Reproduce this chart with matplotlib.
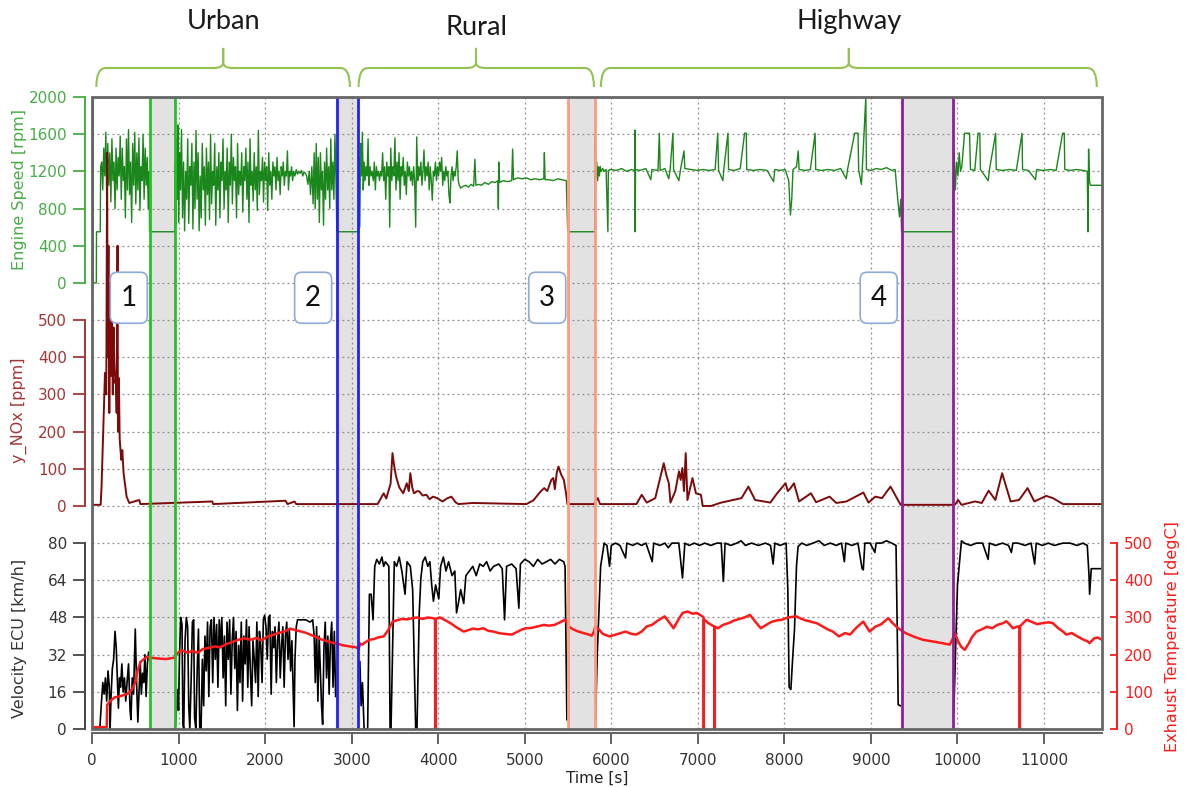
import matplotlib
matplotlib.use("Agg")
import matplotlib.pyplot as plt
import matplotlib.transforms as mtransforms
import numpy as np
from matplotlib.patches import FancyBboxPatch, PathPatch, Rectangle
from matplotlib.path import Path

nan = float("nan")
plt.rcParams["font.family"] = ["DejaVu Sans"]

# ---- data ------------------------------------------------------------------
phases = ["Urban", "Rural", "Highway"]
phase_spans = [(50, 2980), (3080, 5800), (5880, 11610)]
phase_centers = [1516, 4437, 8745]

stop_windows = [(665, 955), (2829, 3079), (5500, 5808), (9354, 9950)]
stop_colors = ["#22c322", "#1f1fff", "#ff9a80", "#8e1f96"]

box_labels = ["1", "2", "3", "4"]
box_times = [425, 2555, 5260, 9090]

x_ticks = list(range(0, 11001, 1000))
rpm_ticks = [0, 400, 800, 1200, 1600, 2000]
nox_ticks = [0, 100, 200, 300, 400, 500]
vel_ticks = [0, 16, 32, 48, 64, 80]
temp_ticks = [0, 100, 200, 300, 400, 500]

# engine speed [rpm]
engine_speed = [
    (0, 0), (10, 0), (12, 2000), (14, 0), (50, 0), (52, 550), (95, 550),
    (100, 1250), (112, 1300), (124, 1000), (136, 1450), (148, 1150), (160, 1620),
    (170, 880), (182, 1500), (194, 1050), (206, 1400), (218, 870), (230, 1550),
    (242, 1100), (254, 1300), (266, 800), (278, 1450), (290, 1000), (302, 1350),
    (314, 1150), (326, 1580), (338, 900), (350, 1450), (362, 1100), (374, 1250),
    (386, 700), (398, 1550), (410, 1000), (422, 1650), (434, 950), (446, 1300),
    (458, 650), (470, 1500), (482, 1050), (494, 1620), (506, 850), (518, 1400),
    (530, 1000), (542, 1560), (554, 780), (566, 1250), (578, 1100), (590, 1600),
    (602, 900), (614, 1450), (626, 1050), (638, 1350), (650, 800), (662, 1200),
    (665, 550), (955, 550),
    (960, 1300), (968, 620), (976, 1550), (984, 900), (992, 1700), (1002, 650),
    (1012, 1400), (1022, 1000), (1034, 1650), (1046, 700), (1058, 1300), (1070, 560),
    (1082, 1200), (1094, 900), (1106, 1550), (1118, 640), (1130, 1250), (1142, 1050),
    (1154, 1500), (1166, 580), (1178, 1300), (1190, 800), (1202, 1640), (1214, 900),
    (1226, 1400), (1238, 560), (1250, 1150), (1262, 700), (1274, 1500), (1286, 1000),
    (1298, 1250), (1310, 620), (1322, 1450), (1334, 950), (1346, 1300), (1358, 680),
    (1370, 1600), (1382, 850), (1394, 1200), (1406, 1050), (1418, 1500), (1430, 620),
    (1442, 1250), (1454, 1000), (1466, 1400), (1478, 700), (1490, 1300), (1502, 1100),
    (1514, 1550), (1526, 800), (1538, 1200), (1550, 1000), (1562, 1450), (1574, 650),
    (1586, 1300), (1598, 1050), (1610, 1600), (1622, 850), (1634, 1350), (1646, 1100),
    (1658, 1250), (1670, 700), (1682, 1500), (1694, 950), (1706, 1200), (1718, 1050),
    (1730, 1400), (1742, 760), (1754, 1250), (1766, 1100), (1778, 1450), (1790, 900),
    (1802, 1300), (1814, 650), (1826, 1550), (1838, 1050), (1850, 1200), (1862, 880),
    (1874, 1400), (1886, 1000), (1898, 1250), (1910, 780), (1922, 1640), (1934, 950),
    (1946, 1200), (1958, 1100), (1970, 1350), (1982, 870), (1994, 1300), (2006, 1100),
    (2018, 1250), (2030, 780), (2042, 1400), (2054, 1050), (2066, 1200), (2078, 900),
    (2090, 1300), (2102, 1150), (2114, 1250), (2126, 1000), (2138, 1350), (2150, 1100),
    (2162, 1200), (2174, 950), (2186, 1250), (2198, 1150), (2210, 1300), (2222, 1050),
    (2234, 1200), (2246, 1150), (2258, 1420), (2270, 1000), (2282, 1200), (2294, 1150),
    (2306, 1250), (2318, 1100), (2330, 1200), (2345, 1150), (2360, 1220), (2375, 1170),
    (2390, 1200), (2405, 1180), (2420, 1210), (2435, 1150), (2450, 1190), (2465, 1180),
    (2480, 1150), (2495, 1060), (2510, 1200), (2525, 950), (2540, 1250), (2555, 850),
    (2567, 1400), (2579, 800), (2591, 1500), (2603, 900), (2615, 1350), (2627, 650),
    (2639, 1400), (2651, 1000), (2663, 1200), (2675, 620), (2687, 1300), (2699, 900),
    (2711, 1450), (2723, 1000), (2735, 1250), (2747, 800), (2759, 1550), (2771, 1000),
    (2783, 1300), (2795, 900), (2807, 1600), (2819, 1100), (2829, 550), (3079, 550),
    (3084, 1350), (3094, 600), (3104, 1500), (3114, 1150), (3124, 1620), (3134, 1000),
    (3144, 1300), (3154, 1100), (3166, 1250), (3178, 1150), (3190, 1550), (3200, 1050),
    (3212, 1250), (3224, 1150), (3236, 1200), (3250, 1100), (3262, 1300), (3274, 1000),
    (3286, 1250), (3298, 1150), (3310, 1200), (3322, 1100), (3334, 1200), (3346, 1150),
    (3358, 1400), (3370, 1100), (3382, 1250), (3394, 900), (3406, 1300), (3418, 1150),
    (3430, 1250), (3440, 600), (3452, 1450), (3464, 1100), (3476, 1250), (3488, 1150),
    (3500, 1560), (3512, 1000), (3524, 1300), (3536, 1100), (3548, 1400), (3560, 900),
    (3572, 1250), (3584, 1150), (3596, 1350), (3608, 1050), (3620, 1200), (3632, 950),
    (3644, 1300), (3656, 1150), (3668, 1250), (3680, 1100), (3692, 1200), (3704, 1050),
    (3716, 1250), (3728, 1100), (3740, 600), (3752, 1570), (3764, 1100), (3776, 1250),
    (3788, 1150), (3800, 1300), (3812, 1050), (3824, 1200), (3836, 1430), (3848, 1100),
    (3860, 1250), (3872, 1150), (3884, 1300), (3896, 1000), (3908, 1250), (3920, 1100),
    (3932, 890), (3944, 1200), (3956, 1150), (3968, 1300), (3980, 1100), (3992, 1250),
    (4004, 1150), (4016, 1300), (4028, 1200), (4040, 1350), (4052, 1050), (4064, 1200),
    (4076, 1100), (4088, 1250), (4100, 1150), (4112, 1200), (4124, 950), (4136, 860),
    (4148, 1150), (4160, 1250), (4172, 1100), (4184, 1200), (4196, 1150), (4208, 1250),
    (4220, 1420), (4232, 1100), (4244, 1050), (4260, 1020), (4290, 1040), (4320, 1050),
    (4350, 1030), (4380, 1060), (4410, 1040), (4424, 1330), (4436, 1050), (4470, 1060),
    (4500, 1050), (4540, 1080), (4580, 1060), (4620, 1090), (4660, 1080), (4690, 1100),
    (4695, 800), (4700, 1300), (4710, 1080), (4750, 1100), (4800, 1090), (4850, 1100),
    (4860, 1440), (4870, 1110), (4920, 1130), (4970, 1120), (5020, 1130), (5070, 1110),
    (5120, 1120), (5170, 1110), (5220, 1120), (5227, 1400), (5235, 1110), (5280, 1110),
    (5330, 1100), (5380, 1120), (5430, 1110), (5480, 1100), (5495, 600), (5500, 550),
    (5808, 550), (5812, 1570), (5822, 1150), (5832, 1300), (5842, 1100), (5852, 1250),
    (5862, 1150), (5872, 1250), (5882, 1200), (5900, 1230), (5920, 1200), (5940, 1220),
    (5961, 550), (5966, 1210), (5990, 1220), (6060, 1210), (6120, 1230), (6180, 1200),
    (6230, 1220), (6270, 1210), (6273, 1645), (6276, 550), (6280, 1220), (6330, 1210),
    (6400, 1230), (6457, 1110), (6470, 1220), (6540, 1210), (6555, 1610), (6565, 1210),
    (6620, 1230), (6664, 1120), (6680, 1220), (6712, 1610), (6720, 1220), (6781, 1100),
    (6800, 1220), (6840, 1420), (6850, 1230), (6920, 1220), (6990, 1210), (7060, 1220),
    (7130, 1210), (7200, 1220), (7230, 1610), (7240, 1210), (7289, 1100), (7300, 1220),
    (7348, 1610), (7355, 1220), (7420, 1210), (7490, 1230), (7540, 1610), (7560, 1610),
    (7565, 1220), (7640, 1210), (7720, 1220), (7800, 1210), (7875, 1090), (7890, 1220),
    (7950, 1210), (8010, 1220), (8050, 1100), (8070, 730), (8085, 900), (8100, 1220),
    (8140, 1250), (8160, 1420), (8170, 1220), (8240, 1210), (8300, 1220), (8355, 1610),
    (8362, 1220), (8430, 1210), (8500, 1220), (8580, 1210), (8650, 1230), (8715, 1120),
    (8730, 1220), (8812, 1610), (8851, 1610), (8858, 1220), (8890, 1060), (8900, 1220),
    (8941, 2000), (8948, 1220), (9000, 1210), (9060, 1230), (9120, 1220), (9180, 1240),
    (9240, 1210), (9280, 1220), (9300, 1000), (9315, 850), (9330, 710), (9345, 900),
    (9354, 550), (9950, 550), (9962, 1400), (9975, 1000), (9990, 1300), (10005, 1150),
    (10020, 1400), (10035, 1200), (10050, 1250), (10082, 1610), (10140, 1610),
    (10150, 1220), (10200, 1210), (10238, 1610), (10258, 1610), (10265, 1220),
    (10355, 1100), (10370, 1220), (10441, 1610), (10448, 1220), (10520, 1210),
    (10600, 1220), (10680, 1210), (10746, 1610), (10752, 1220), (10820, 1210),
    (10902, 1110), (10915, 1220), (10990, 1210), (11070, 1220), (11140, 1210),
    (11215, 1610), (11234, 1610), (11240, 1220), (11300, 1210), (11380, 1220),
    (11450, 1210), (11500, 1200), (11508, 550), (11515, 1440), (11525, 1100),
    (11535, 1050), (11670, 1050),
]

# NOx concentration [ppm]
nox = [
    (0, 3), (100, 3), (110, 50), (130, 200), (150, 358), (165, 300), (175, 950),
    (180, 400), (190, 700), (200, 250), (210, 600), (220, 350), (230, 520), (240, 300),
    (250, 480), (260, 380), (270, 330), (276, 340), (285, 250), (295, 700), (300, 200),
    (310, 344), (320, 180), (338, 124), (350, 150), (365, 88), (380, 60), (400, 25),
    (430, 8), (545, 16), (560, 5), (1390, 12), (1400, 5), (2235, 14), (2260, 5),
    (2340, 12), (2360, 5), (3300, 5), (3370, 34), (3400, 20), (3450, 60), (3472, 142),
    (3490, 110), (3513, 79), (3550, 50), (3596, 34), (3637, 61), (3660, 40), (3678, 88),
    (3700, 50), (3720, 34), (3760, 40), (3782, 39), (3820, 28), (3864, 30), (3900, 18),
    (3940, 25), (3988, 21), (4050, 12), (4100, 20), (4153, 25), (4200, 10), (4235, 5),
    (4400, 8), (5019, 5), (5100, 15), (5184, 39), (5225, 48), (5260, 40), (5307, 70),
    (5330, 75), (5348, 45), (5370, 90), (5390, 106), (5420, 85), (5452, 70), (5480, 30),
    (5493, 5), (5800, 5), (5844, 21), (5870, 5), (6290, 5), (6352, 30), (6410, 9),
    (6508, 21), (6606, 115), (6640, 80), (6665, 61), (6684, 9), (6740, 40), (6782, 93),
    (6802, 70), (6821, 102), (6840, 40), (6860, 142), (6880, 16), (6938, 75), (6978, 34),
    (7036, 30), (7056, 0), (7153, 0), (7270, 9), (7505, 21), (7584, 52), (7662, 16),
    (7838, 9), (7916, 34), (8014, 61), (8040, 40), (8072, 48), (8111, 61), (8170, 12),
    (8307, 34), (8366, 10), (8522, 25), (8600, 8), (8717, 12), (8913, 36), (8972, 9),
    (9050, 25), (9128, 21), (9226, 52), (9343, 3), (9969, 3), (10008, 16), (10047, 3),
    (10203, 12), (10281, 8), (10360, 41), (10438, 16), (10516, 88), (10614, 12),
    (10712, 16), (10810, 48), (10888, 12), (11025, 27), (11103, 21), (11220, 5),
    (11670, 5),
]

# vehicle speed [km/h], no signal while the engine idles in the grey windows
velocity = [
    (0, 0), (90, 0), (110, 12), (125, 20), (140, 15), (155, 22), (170, 12), (185, 25),
    (200, 18), (209, 0), (220, 14), (235, 26), (250, 30), (266, 42), (280, 35), (295, 20),
    (305, 9), (318, 22), (330, 18), (345, 28), (360, 16), (375, 22), (390, 12), (405, 20),
    (422, 28), (440, 8), (450, 4), (465, 22), (480, 15), (500, 43), (515, 20), (530, 3),
    (545, 18), (557, 29), (570, 15), (585, 24), (597, 20), (612, 32), (625, 14), (640, 28),
    (654, 33), (665, nan),
    (960, 0), (980, 10), (990, 17), (1000, 8), (1010, 30), (1025, 48), (1040, 45),
    (1050, 2), (1060, 0), (1075, 38), (1090, 48), (1105, 44), (1118, 10), (1130, 0),
    (1145, 20), (1160, 46), (1175, 47), (1185, 5), (1200, 0), (1215, 25), (1230, 43),
    (1245, 0), (1260, 0), (1275, 30), (1290, 10), (1305, 40), (1320, 25), (1335, 46),
    (1350, 14), (1365, 44), (1380, 47), (1395, 20), (1410, 48), (1425, 30), (1440, 45),
    (1455, 18), (1470, 47), (1485, 35), (1500, 48), (1515, 22), (1530, 40), (1545, 10),
    (1560, 46), (1575, 30), (1590, 47), (1605, 15), (1620, 38), (1635, 48), (1650, 26),
    (1665, 42), (1680, 8), (1695, 36), (1710, 20), (1725, 46), (1740, 12), (1755, 40),
    (1770, 28), (1785, 47), (1800, 18), (1815, 44), (1830, 25), (1845, 10), (1860, 38),
    (1875, 30), (1890, 20), (1905, 46), (1920, 14), (1935, 42), (1950, 36), (1965, 20),
    (1980, 47), (1995, 49), (2010, 44), (2025, 30), (2040, 48), (2055, 49), (2070, 15),
    (2085, 42), (2100, 35), (2115, 44), (2130, 20), (2145, 38), (2160, 46), (2175, 22),
    (2190, 36), (2205, 44), (2220, 18), (2235, 40), (2250, 46), (2265, 30), (2280, 43),
    (2295, 25), (2310, 38), (2325, 15), (2335, 1), (2345, 30), (2360, 44), (2375, 47),
    (2420, 47), (2470, 47), (2520, 46), (2550, 47), (2567, 40), (2580, 20), (2595, 44),
    (2610, 12), (2625, 40), (2640, 24), (2652, 10), (2665, 2), (2680, 35), (2695, 46),
    (2710, 22), (2725, 40), (2740, 15), (2755, 38), (2770, 46), (2785, 18), (2800, 42),
    (2815, 14), (2829, nan),
    (3095, 29), (3110, 10), (3125, 20), (3144, 0), (3185, 0), (3205, 58), (3226, 58),
    (3247, 47), (3267, 70), (3290, 73), (3320, 71), (3350, 74), (3370, 70), (3390, 72),
    (3430, 70), (3444, 0), (3455, 0), (3493, 72), (3520, 70), (3550, 74), (3580, 68),
    (3617, 58), (3640, 72), (3678, 70), (3705, 60), (3740, 0), (3755, 0), (3781, 50),
    (3800, 65), (3822, 72), (3850, 74), (3880, 70), (3904, 72), (3925, 62), (3945, 55),
    (3970, 62), (4007, 56), (4028, 70), (4060, 74), (4090, 68), (4120, 72), (4160, 66),
    (4192, 68), (4212, 50), (4233, 54), (4260, 60), (4295, 54), (4320, 66), (4360, 68),
    (4400, 70), (4440, 66), (4480, 71), (4520, 70), (4560, 72), (4600, 68), (4640, 70),
    (4700, 71), (4740, 69), (4767, 47), (4790, 70), (4850, 71), (4900, 69), (4932, 52),
    (4950, 71), (5000, 73), (5050, 72), (5100, 70), (5150, 73), (5200, 71), (5250, 72),
    (5300, 73), (5350, 71), (5400, 73), (5450, 72), (5466, 70), (5487, 4), (5500, nan),
    (5819, 4), (5836, 30), (5877, 70), (5918, 80), (5950, 79), (5980, 70), (6000, 79),
    (6050, 80), (6100, 79), (6165, 73.6), (6180, 80), (6250, 79), (6300, 80), (6350, 79),
    (6400, 80), (6473, 72), (6490, 80), (6560, 79), (6620, 80), (6658, 78), (6700, 80),
    (6780, 80), (6823, 65), (6850, 80), (6900, 79), (6960, 80), (7020, 79), (7080, 80),
    (7150, 79), (7220, 80), (7270, 80), (7295, 63.5), (7315, 80), (7380, 79), (7450, 80),
    (7500, 81), (7550, 79), (7620, 80), (7700, 79), (7780, 80), (7840, 79), (7870, 71),
    (7890, 80), (7950, 79), (8020, 80), (8040, 60), (8055, 18), (8075, 17), (8095, 30),
    (8117, 43), (8140, 70), (8158, 78.5), (8200, 80), (8260, 79), (8330, 80), (8400, 81),
    (8460, 79), (8530, 80), (8600, 79), (8660, 80), (8693, 72), (8710, 80), (8780, 79),
    (8850, 80), (8898, 69), (8912, 68.5), (8930, 80), (8990, 80), (9046, 76), (9060, 80),
    (9120, 80), (9180, 81), (9240, 80), (9290, 79), (9305, 40), (9315, 10.5), (9340, 10),
    (9354, nan),
    (9958, 7), (9975, 30), (10000, 62), (10046, 81), (10080, 80), (10150, 79),
    (10220, 80), (10290, 80), (10354, 73), (10370, 80), (10440, 79), (10520, 80),
    (10590, 79), (10623, 76), (10640, 80), (10700, 80), (10780, 79), (10850, 80),
    (10892, 71), (10910, 80), (10980, 79), (11050, 80), (11120, 79), (11219, 80),
    (11300, 80), (11380, 79), (11450, 80), (11500, 79), (11520, 66), (11527, 58),
    (11546, 69), (11670, 69),
]

# exhaust gas temperature [degC]
exhaust_temp = [
    (0, 5), (170, 5), (175, 65), (210, 75), (260, 85), (320, 88), (380, 92), (430, 97),
    (470, 110), (500, 125), (530, 160), (560, 180), (600, 188), (640, 195), (665, 192),
    (750, 190), (850, 188), (955, 192), (990, 205), (1040, 212), (1100, 205), (1160, 210),
    (1220, 205), (1280, 215), (1350, 218), (1420, 222), (1480, 220), (1550, 228),
    (1620, 234), (1690, 240), (1760, 244), (1830, 240), (1900, 245), (1960, 238),
    (2020, 248), (2080, 252), (2150, 258), (2220, 262), (2290, 270), (2350, 266),
    (2420, 262), (2480, 258), (2540, 252), (2600, 246), (2660, 240), (2720, 236),
    (2780, 232), (2829, 230), (2900, 225), (2980, 222), (3050, 220), (3080, 215),
    (3100, 230), (3123, 227), (3150, 232), (3205, 240), (3260, 242), (3300, 246),
    (3370, 249), (3420, 265), (3473, 289), (3520, 292), (3580, 296), (3640, 295),
    (3699, 298), (3760, 300), (3820, 296), (3880, 300), (3940, 298), (3964, 296),
    (3966, 0), (3968, 296), (4020, 300), (4060, 295), (4110, 289), (4160, 282),
    (4200, 275), (4250, 268), (4295, 262), (4350, 266), (4400, 270), (4460, 268),
    (4520, 271), (4580, 264), (4640, 262), (4700, 258), (4760, 256), (4850, 254),
    (4920, 262), (4970, 268), (5014, 271), (5080, 272), (5150, 276), (5220, 280),
    (5280, 278), (5343, 280), (5400, 286), (5466, 294), (5507, 276), (5560, 268),
    (5620, 262), (5680, 258), (5740, 254), (5774, 251), (5800, 262), (5815, 276),
    (5850, 270), (5900, 256), (5980, 249), (6050, 254), (6110, 258), (6165, 262),
    (6230, 256), (6288, 254), (6350, 262), (6411, 276), (6470, 280), (6540, 292),
    (6617, 303), (6660, 290), (6720, 271), (6780, 296), (6823, 312), (6880, 316),
    (6940, 310), (6987, 312), (7040, 305), (7067, 300), (7069, 0), (7071, 295),
    (7120, 285), (7172, 278), (7190, 276), (7192, 0), (7194, 275), (7233, 271),
    (7290, 280), (7357, 285), (7420, 292), (7480, 296), (7540, 300), (7603, 307),
    (7660, 290), (7727, 271), (7790, 280), (7850, 288), (7910, 292), (7973, 294),
    (8040, 300), (8100, 302), (8137, 303), (8200, 296), (8250, 292), (8302, 289),
    (8380, 284), (8440, 276), (8500, 268), (8560, 262), (8631, 249), (8700, 258),
    (8758, 254), (8830, 272), (8912, 289), (8950, 275), (8985, 262), (9050, 275),
    (9120, 282), (9200, 298), (9250, 285), (9315, 271), (9400, 258), (9500, 248),
    (9600, 240), (9700, 236), (9800, 232), (9910, 227), (9940, 240), (9970, 258),
    (10000, 240), (10040, 222), (10085, 213), (10130, 230), (10170, 248), (10220, 262),
    (10280, 268), (10340, 275), (10400, 271), (10460, 280), (10520, 284), (10565, 290),
    (10600, 282), (10640, 271), (10700, 276), (10718, 276), (10720, 0), (10722, 276),
    (10760, 285), (10800, 294), (10860, 288), (10920, 282), (10990, 285), (11050, 287),
    (11100, 285), (11160, 272), (11220, 262), (11258, 254), (11320, 258), (11380, 250),
    (11440, 242), (11500, 236), (11527, 231), (11580, 244), (11620, 246), (11670, 240),
]

# ---- figure -----------------------------------------------------------------
X_MAX = 11670
GREEN, GREEN_DARK = "#46ad46", "#1b861b"
NOX_LBL, NOX_LINE = "#a33535", "#7d0a0a"
VEL_LBL = "#333333"
TEMP = "#ff1a1a"
TICK_FS, LABEL_FS = 11, 11.5

fig = plt.figure(figsize=(11.89, 7.87), dpi=100)
rect = [92 / 1189, 1 - 729 / 787, 1010 / 1189, 632 / 787]

# base axes: 17 grid rows shared by the three stacked signals
ax0 = fig.add_axes(rect)
ax0.set_xlim(0, X_MAX)
ax0.set_ylim(0, 17)
for side in ["top", "right", "left"]:
    ax0.spines[side].set_visible(False)
ax0.spines["bottom"].set_position(("outward", 3))
ax0.spines["bottom"].set_color("#666666")
ax0.spines["bottom"].set_linewidth(1.5)
ax0.set_yticks([])
ax0.set_xticks(x_ticks)
ax0.tick_params(axis="x", direction="out", length=8, width=1.3, color="#555555",
                labelsize=TICK_FS, labelcolor="#333333", pad=6)
ax0.set_xlabel("Time [s]", fontsize=11, color="#222222", labelpad=2)

for a, b in stop_windows:
    ax0.axvspan(a, b, color="#e2e2e2", lw=0, zorder=0)
for y in range(1, 17):
    ax0.axhline(y, color="#8c8c8c", ls=(0, (1.5, 2.5)), lw=0.9, zorder=1)
for x in x_ticks[1:]:
    ax0.axvline(x, color="#8c8c8c", ls=(0, (1.5, 2.5)), lw=0.9, zorder=1)


def overlay(ylim):
    a = fig.add_axes(rect, sharex=ax0)
    a.patch.set_visible(False)
    for s in a.spines.values():
        s.set_visible(False)
    a.xaxis.set_visible(False)
    a.set_ylim(ylim)
    return a


def left_scale(a, ticks, color, lblcolor, label, label_y):
    sp = a.spines["left"]
    sp.set_visible(True)
    sp.set_position(("outward", 5))
    sp.set_bounds(ticks[0], ticks[-1])
    sp.set_color(color)
    sp.set_linewidth(1.4)
    a.set_yticks(ticks)
    a.tick_params(axis="y", direction="out", length=9, width=1.3, color=color,
                  labelcolor=lblcolor, labelsize=TICK_FS, pad=4)
    a.set_ylabel(label, color=lblcolor, fontsize=LABEL_FS)
    a.yaxis.set_label_coords(-0.064, label_y)


def series(pairs):
    arr = np.array(pairs, dtype=float)
    return arr[:, 0], arr[:, 1]


# engine speed: rows 12..17
ax_e = overlay((-4800, 2000))
left_scale(ax_e, rpm_ticks, GREEN, GREEN, "Engine Speed [rpm]", 0.853)
t, v = series(engine_speed)
ax_e.plot(t, v, color=GREEN_DARK, lw=1.0)

# NOx: rows 6..11
ax_n = overlay((-600, 1100))
left_scale(ax_n, nox_ticks, NOX_LBL, NOX_LBL, "y_NOx [ppm]", 0.505)
t, v = series(nox)
ax_n.plot(t, v, color=NOX_LINE, lw=1.4)

# velocity: rows 0..5
ax_v = overlay((0, 272))
left_scale(ax_v, vel_ticks, "#444444", VEL_LBL, "Velocity ECU [km/h]", 0.144)
t, v = series(velocity)
ax_v.plot(t, v, color="black", lw=1.2)

# exhaust temperature on the right, same rows as velocity
ax_t = overlay((0, 1700))
sp = ax_t.spines["right"]
sp.set_visible(True)
sp.set_position(("outward", 11))
sp.set_bounds(temp_ticks[0], temp_ticks[-1])
sp.set_color(TEMP)
sp.set_linewidth(1.4)
ax_t.yaxis.tick_right()
ax_t.yaxis.set_label_position("right")
ax_t.set_yticks(temp_ticks)
ax_t.tick_params(axis="y", direction="in", length=5, width=1.3, color=TEMP,
                 labelcolor=TEMP, labelsize=TICK_FS, pad=5)
ax_t.set_ylabel("Exhaust Temperature [degC]", color=TEMP, fontsize=LABEL_FS)
ax_t.yaxis.set_label_coords(1.062, 0.146)
t, v = series(exhaust_temp)
ax_t.plot(t, v, color=TEMP, lw=1.8)

# idle window borders
for (a, b), c in zip(stop_windows, stop_colors):
    ax_t.axvline(a, color=c, lw=2, zorder=5)
    ax_t.axvline(b, color=c, lw=2, zorder=5)

# plot frame
ax_t.add_patch(Rectangle((0, 0), 1, 1, transform=ax_t.transAxes, fill=False,
                         edgecolor="#666666", lw=2, clip_on=False, zorder=6))

# numbered call-out boxes
for lbl, bt in zip(box_labels, box_times):
    trans = fig.dpi_scale_trans + mtransforms.ScaledTranslation(bt, 11.6, ax0.transData)
    box = FancyBboxPatch((-0.185, -0.255), 0.37, 0.51,
                         boxstyle="round,pad=0,rounding_size=0.07",
                         transform=trans, facecolor="white", edgecolor="#8eaadb",
                         lw=1.2, zorder=7)
    ax_t.add_patch(box)
    ax_t.text(bt, 11.6, lbl, transform=ax0.transData, ha="center", va="center",
              fontsize=20, family="Lato", color="#111111", zorder=8)

# phase braces above the plot
y_end, y_mid, y_top = 17.27, 17.78, 18.32
r = 110
for name, (xa, xb), xc in zip(phases, phase_spans, phase_centers):
    for x_out, sgn in [(xa, 1), (xb, -1)]:
        verts = [(x_out, y_end), (x_out, y_mid), (x_out + sgn * r, y_mid),
                 (xc - sgn * r, y_mid), (xc, y_mid), (xc, y_mid + 0.15), (xc, y_top)]
        codes = [Path.MOVETO, Path.CURVE3, Path.CURVE3, Path.LINETO,
                 Path.CURVE3, Path.CURVE3, Path.LINETO]
        ax_t.add_patch(PathPatch(Path(verts, codes), transform=ax0.transData,
                                 fill=False, edgecolor="#92c353", lw=1.5,
                                 clip_on=False))
    ty = 18.88 if name == "Rural" else 19.02
    ax_t.text(xc, ty, name, transform=ax0.transData, ha="center", va="center",
              fontsize=19.5, family="Lato", color="#1a1a1a", clip_on=False)

fig.savefig("out.png", dpi=100)
